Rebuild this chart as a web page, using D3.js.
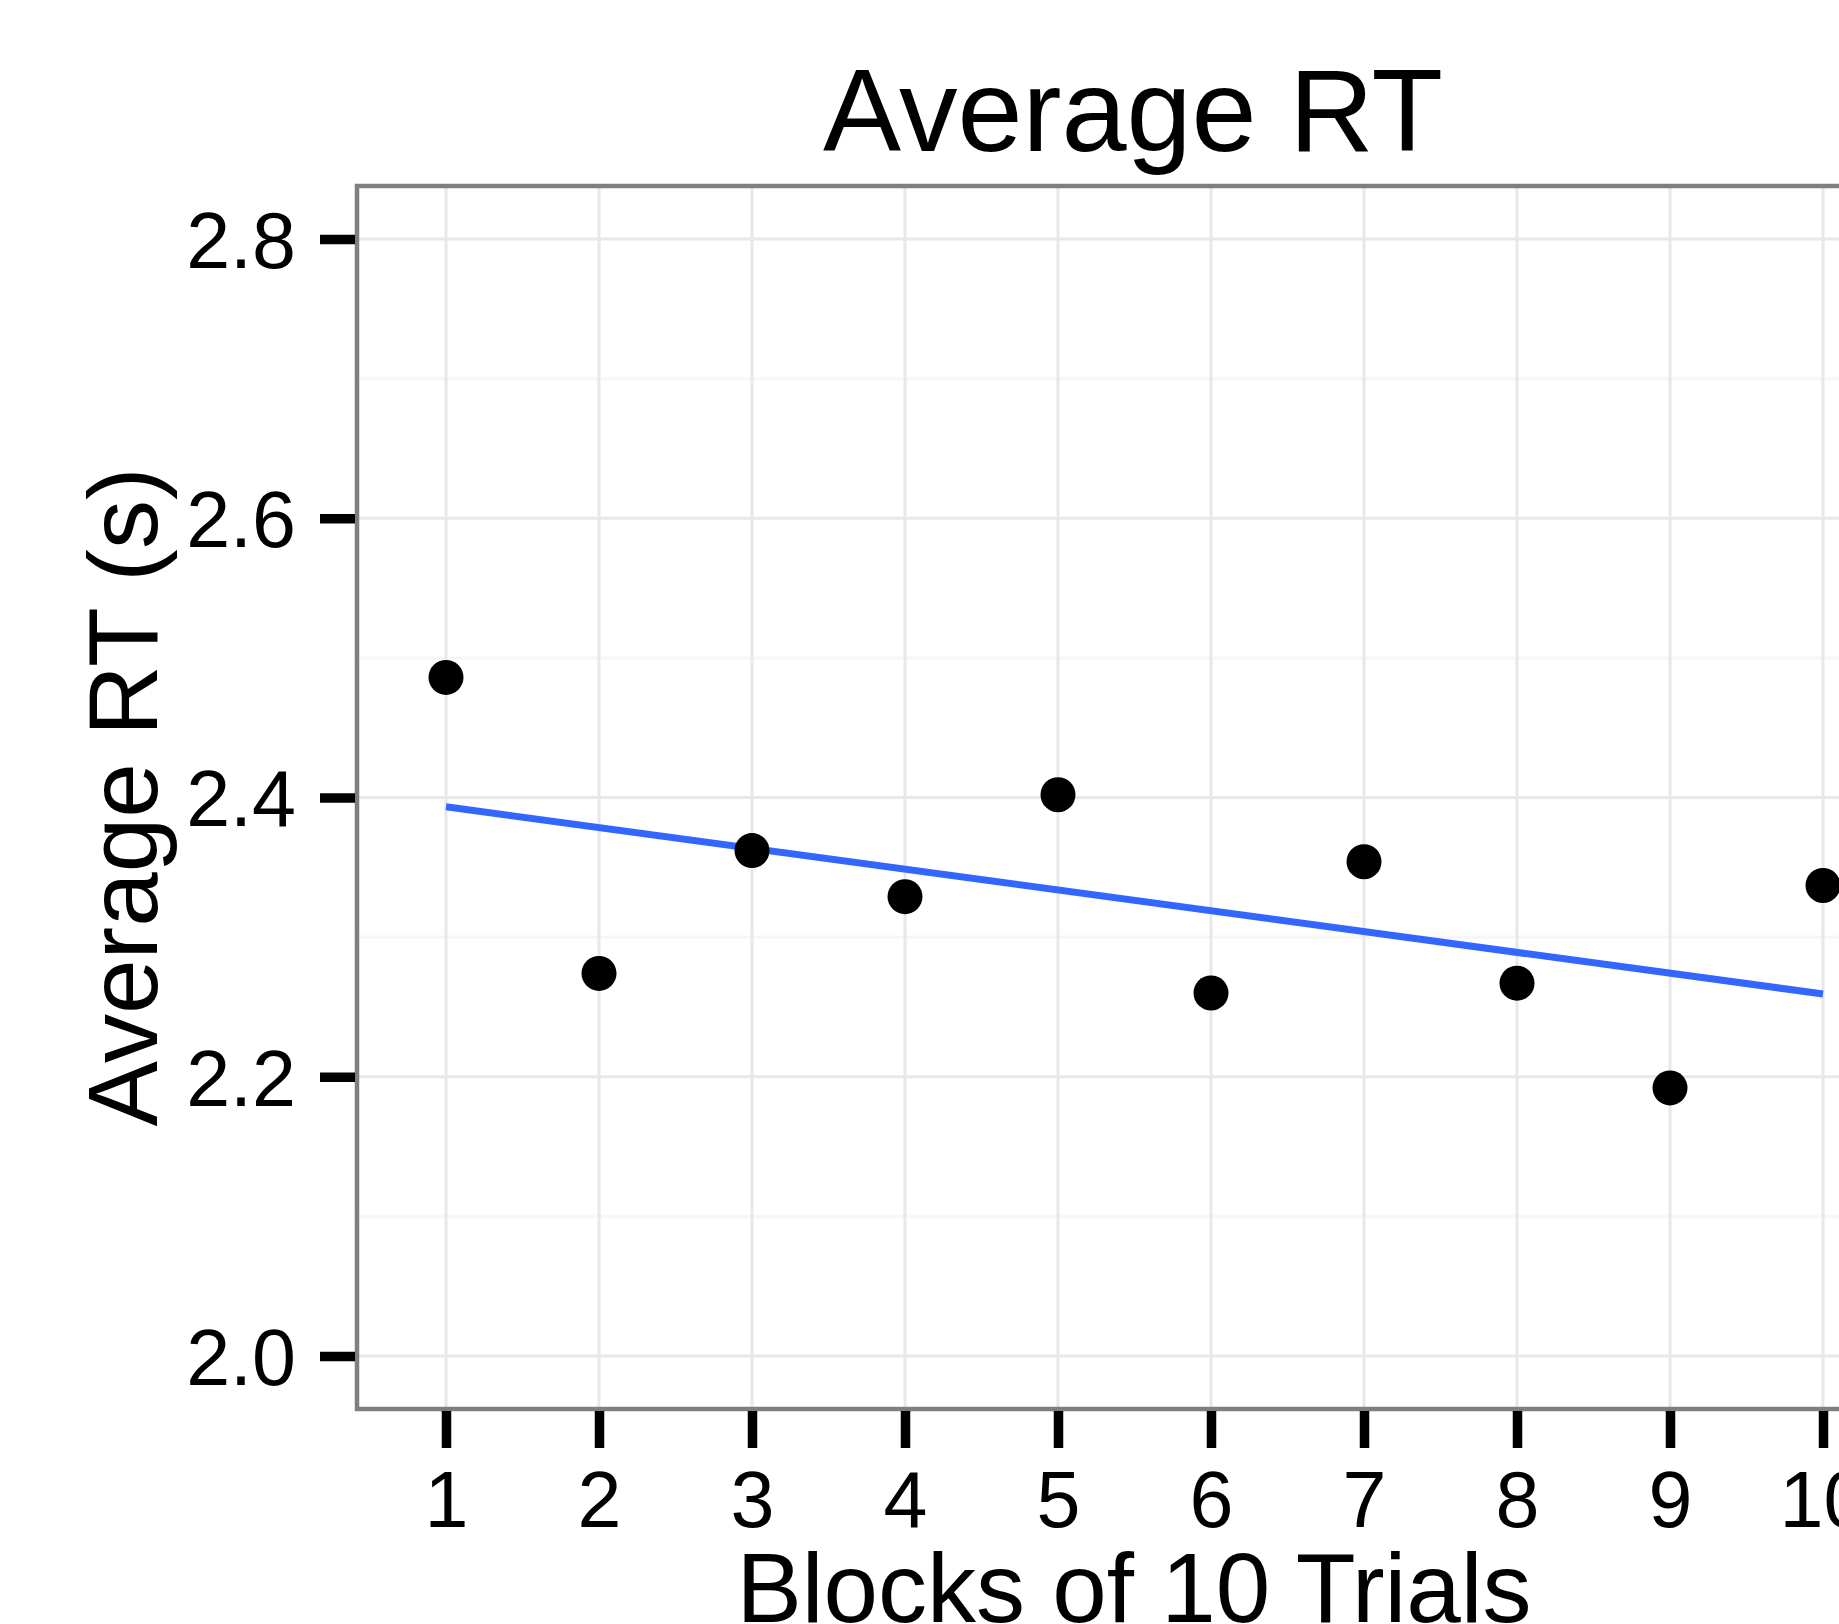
<!DOCTYPE html>
<html>
<head>
<meta charset="utf-8">
<script src="https://cdn.jsdelivr.net/npm/d3@7"></script>
<style>
  html, body { margin: 0; padding: 0; background: #ffffff; }
  svg { display: block; }
  text { font-family: "Liberation Sans", Arial, Helvetica, sans-serif; fill: #000; }
</style>
</head>
<body>
<svg id="chart" width="1839" height="1624"></svg>
<script>
// ---- data ----
const blocks = [1, 2, 3, 4, 5, 6, 7, 8, 9, 10];
const avgRT  = [2.486, 2.274, 2.362, 2.329, 2.402, 2.260, 2.354, 2.267, 2.192, 2.337];
const yTicks = [2.0, 2.2, 2.4, 2.6, 2.8];
const yMinorTicks = [2.1, 2.3, 2.5, 2.7];
const xTicks = [1, 2, 3, 4, 5, 6, 7, 8, 9, 10];
const titleText = "Average RT";
const xTitle = "Blocks of 10 Trials";
const yTitle = "Average RT (s)";

// ---- layout ----
const W = 1839, H = 1624;
const panel = { left: 357, top: 186, bottom: 1409, right: 1915 };

const svg = d3.select("#chart");
svg.append("rect").attr("width", W).attr("height", H).attr("fill", "#fff");

// discrete-like x positions (levels 1..10, expansion 0.6)
const x = d3.scaleLinear().domain([1, 10]).range([446, 1823]);
const y = d3.scaleLinear().domain([2.0, 2.8]).range([1356, 239]);

const g = svg.append("g");

// panel background
g.append("rect")
  .attr("x", panel.left).attr("y", panel.top)
  .attr("width", panel.right - panel.left).attr("height", panel.bottom - panel.top)
  .attr("fill", "#fff");

// minor grid
g.selectAll("line.minor").data(yMinorTicks).join("line")
  .attr("class", "minor")
  .attr("x1", panel.left).attr("x2", panel.right)
  .attr("y1", d => y(d)).attr("y2", d => y(d))
  .attr("stroke", "#f7f7f7").attr("stroke-width", 3.5);

// major grid
g.selectAll("line.majorY").data(yTicks).join("line")
  .attr("class", "majorY")
  .attr("x1", panel.left).attr("x2", panel.right)
  .attr("y1", d => y(d)).attr("y2", d => y(d))
  .attr("stroke", "#e8e8e8").attr("stroke-width", 3);
g.selectAll("line.majorX").data(xTicks).join("line")
  .attr("class", "majorX")
  .attr("y1", panel.top).attr("y2", panel.bottom)
  .attr("x1", d => x(d)).attr("x2", d => x(d))
  .attr("stroke", "#e8e8e8").attr("stroke-width", 3);

// linear fit (least squares, as geom_smooth(method = "lm"))
const mx = d3.mean(blocks), my = d3.mean(avgRT);
let sxy = 0, sxx = 0;
blocks.forEach((b, i) => { sxy += (b - mx) * (avgRT[i] - my); sxx += (b - mx) * (b - mx); });
const slope = sxy / sxx, intercept = my - slope * mx;
const fitX = d3.extent(blocks);
const fit = fitX.map(b => [b, intercept + slope * b]);

g.append("path")
  .datum(fit)
  .attr("d", d3.line().x(d => x(d[0])).y(d => y(d[1])))
  .attr("fill", "none")
  .attr("stroke", "#3366FF")
  .attr("stroke-width", 7);

// points
g.selectAll("circle.pt").data(blocks).join("circle")
  .attr("class", "pt")
  .attr("cx", d => x(d))
  .attr("cy", (d, i) => y(avgRT[i]))
  .attr("r", 17.5)
  .attr("fill", "#000");

// panel border
g.append("rect")
  .attr("x", panel.left).attr("y", panel.top)
  .attr("width", panel.right - panel.left).attr("height", panel.bottom - panel.top)
  .attr("fill", "none").attr("stroke", "#7f7f7f").attr("stroke-width", 4.5);

// axes
const yAxis = d3.axisLeft(y).tickValues(yTicks).tickFormat(d3.format(".1f"))
  .tickSize(35).tickPadding(24);
const ya = svg.append("g").attr("transform", `translate(${panel.left - 2},0)`).call(yAxis);
ya.select(".domain").remove();
ya.selectAll(".tick line").attr("stroke", "#000").attr("stroke-width", 9.5);
ya.selectAll(".tick text")
  .attr("font-size", 79).attr("dy", "0.36em")
  .style("font-family", '"Liberation Sans", Arial, Helvetica, sans-serif')
  .attr("fill", "#000");

const xAxis = d3.axisBottom(x).tickValues(xTicks).tickFormat(d3.format("d"))
  .tickSize(37).tickPadding(23);
const xa = svg.append("g").attr("transform", `translate(0,${panel.bottom + 2})`).call(xAxis);
xa.select(".domain").remove();
xa.selectAll(".tick line").attr("stroke", "#000").attr("stroke-width", 9.5);
xa.selectAll(".tick text")
  .attr("font-size", 79)
  .style("font-family", '"Liberation Sans", Arial, Helvetica, sans-serif')
  .attr("fill", "#000");

// titles
svg.append("text")
  .attr("x", 1133).attr("y", 151)
  .attr("text-anchor", "middle")
  .attr("font-size", 117)
  .text(titleText);

svg.append("text")
  .attr("x", 1134).attr("y", 1622)
  .attr("text-anchor", "middle")
  .attr("font-size", 98)
  .text(xTitle);

svg.append("text")
  .attr("transform", "translate(157,797) rotate(-90)")
  .attr("text-anchor", "middle")
  .attr("font-size", 98)
  .text(yTitle);
</script>
</body>
</html>
